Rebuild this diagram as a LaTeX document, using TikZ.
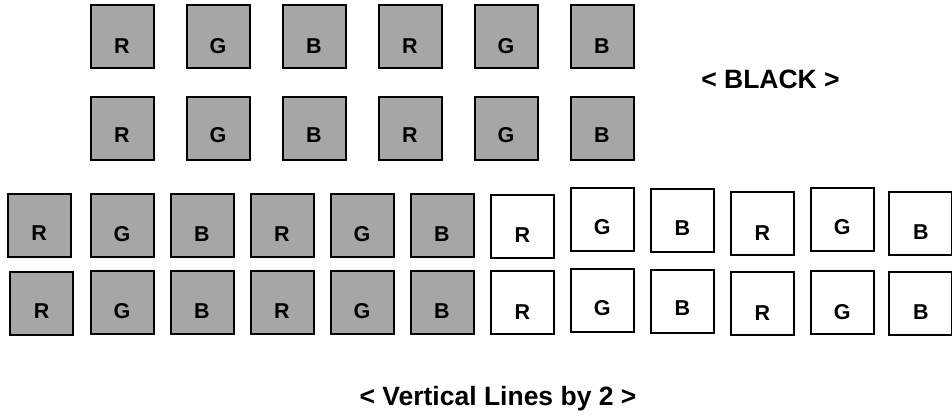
\documentclass[tikz,border=0pt]{standalone}
\usepackage{fontspec}
\setmainfont{Liberation Sans}
\definecolor{cellgray}{RGB}{166,166,166}
\tikzset{
  cell/.style={draw=black, line width=2pt, minimum width=63pt, minimum height=63pt, inner sep=0pt},
  gbox/.style={cell, fill=cellgray},
  wbox/.style={cell, fill=white},
  lbl/.style={inner sep=0pt, font=\fontsize{21.5}{24}\selectfont\bfseries},
  title/.style={inner sep=0pt, anchor=base, font=\fontsize{26.5}{30}\selectfont\bfseries}
}
\begin{document}
\begin{tikzpicture}[x=1pt, y=-1pt]
\useasboundingbox (0,0) rectangle (952,417);

% upper block: two rows of grey sub-pixels
\foreach \n/\x/\y/\ly/\t in {
  a1/122/36.5/45.7/R, a2/218/36.5/45.7/G, a3/314/36.5/45.7/B,
  a4/410/36.5/45.7/R, a5/506/36.5/45.7/G, a6/602/36.5/45.7/B,
  b1/122/128.5/135/R, b2/218/128.5/135/G, b3/314/128.5/135/B,
  b4/410/128.5/135/R, b5/506/128.5/135/G, b6/602/128.5/135/B}
{
  \node[gbox] (\n) at (\x,\y) {};
  \node[lbl] (\n-t) at (\x,\ly) {\t};
}

% lower block, left half: grey sub-pixels
\foreach \n/\x/\y/\ly/\t in {
  c1/39.2/225.5/233.5/R, c2/122/225.8/234/G, c3/202/225.8/234/B,
  c4/282/225.8/234/R, c5/362/225.8/234/G, c6/442/225.8/234/B,
  d1/41.7/303.2/311.5/R, d2/122/302.5/311/G, d3/202/302.5/311/B,
  d4/282/302.5/311/R, d5/362/302.5/311/G, d6/442/302.5/311/B}
{
  \node[gbox] (\n) at (\x,\y) {};
  \node[lbl] (\n-t) at (\x,\ly) {\t};
}

% lower block, right half: white sub-pixels
\foreach \n/\x/\y/\ly/\t in {
  c7/522/226.2/235/R, c8/602/219.2/226.7/G, c9/682/220.5/228.3/B,
  c10/762/223.8/233.3/R, c11/842/219.2/226.7/G, c12/920.5/223.8/231.7/B,
  d7/522/302.2/311.7/R, d8/602/300.2/308.3/G, d9/682/301.5/307.7/B,
  d10/762/303.7/312.7/R, d11/842/302.5/311.7/G, d12/920.5/303.3/311.7/B}
{
  \node[wbox] (\n) at (\x,\y) {};
  \node[lbl] (\n-t) at (\x+0.3,\ly) {\t};
}

\node[title] (black) at (770.5,88.3) {< BLACK >};
\node[title] (vlines) at (498,405.7) {< Vertical Lines by 2 >};
\end{tikzpicture}
\end{document}
